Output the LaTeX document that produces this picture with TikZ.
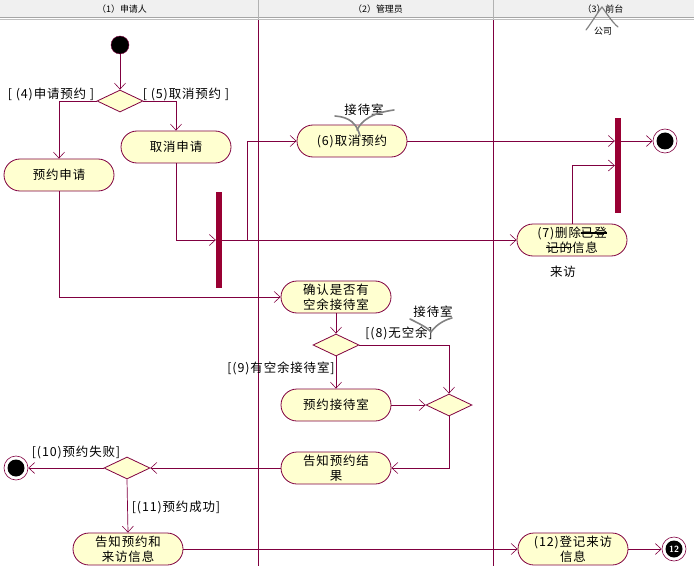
\documentclass[tikz,border=0pt]{standalone}
\usepackage{fontspec}
\newfontfamily\cjk[LetterSpace=7]{Noto Sans CJK SC}
\newfontfamily\cjkplain{Noto Sans CJK SC}
\usetikzlibrary{arrows.meta,shapes.geometric,shapes.misc}
\definecolor{ln}{RGB}{128,0,64}
\definecolor{nfill}{RGB}{255,255,208}
\definecolor{barc}{RGB}{153,0,51}
\definecolor{hdr}{RGB}{240,240,240}
\definecolor{scrib}{RGB}{130,130,130}
\newsavebox\stbox
\newcommand\mystrike[1]{\sbox\stbox{#1}\rlap{\usebox\stbox}\rule[0.3em]{\wd\stbox}{0.14em}}
\begin{document}
\begin{tikzpicture}[x=1bp,y=-1bp,
  act/.style={rounded rectangle,draw=ln,fill=nfill,line width=0.8bp,minimum width=112bp,minimum height=32bp,inner sep=1bp,align=center,font=\cjk\fontsize{12.5}{15}\selectfont},
  dec/.style={diamond,draw=ln,fill=nfill,line width=0.8bp,minimum width=46bp,minimum height=22bp,inner sep=0bp},
  barnode/.style={rectangle,fill=barc,minimum width=6bp,minimum height=96bp,inner sep=0bp},
  startnode/.style={circle,fill=black,draw=ln,minimum size=18bp,inner sep=0bp},
  endnode/.style={circle,draw=ln,fill=white,line width=0.6bp,minimum size=24bp,inner sep=0bp,path picture={\fill[black] (path picture bounding box.center) circle[radius=8.5bp];}},
  lbl/.style={font=\cjk\fontsize{12.5}{14}\selectfont,inner sep=0bp},
  hlbl/.style={font=\cjkplain\fontsize{9}{11}\selectfont,inner sep=0bp},
  flow/.style={draw=ln,line width=0.7bp,-{Straight Barb[length=6bp,width=11bp,line width=0.6bp]}},
  scribble/.style={draw=scrib,line width=1.6bp,line cap=round},
  lane/.style={draw=ln,line width=0.7bp}]
\useasboundingbox (0,0) rectangle (694,566);
% header
\fill[hdr] (0,0) rectangle (694,17);
\draw[gray!70,line width=1bp] (0,17.5) -- (694,17.5);
\draw[gray!50,line width=0.8bp] (0,19.5) -- (694,19.5);
\draw[gray!60,line width=0.8bp] (258,0) -- (258,19);
\draw[gray!60,line width=0.8bp] (493,0) -- (493,19);
\node[hlbl] (h1) at (122,9) {（1）申请人};
\node[hlbl] (h2) at (378,9) {（2）管理员};
\node[hlbl] (h3) at (603,9) {（3）前台};
% lanes
\draw[lane] (258,20) -- (258,566);
\draw[lane] (493,20) -- (493,566);
% nodes
\node[startnode] (start) at (120,45) {};
\node[dec] (d1) at (120,101) {};
\node[act] (a4) at (59,175) {预约申请};
\node[act] (a5) at (176,147) {取消申请};
\node[barnode] (bar1) at (219,240) {};
\coordinate (j1) at (247,240);
\node[act] (a6) at (352,141) {(6)取消预约};
\node[barnode,minimum height=95bp] (bar2) at (618,165.5) {};
\node[endnode] (end1) at (665,141) {};
\node[act] (a7) at (572,240) {(7)删除\mystrike{已登}\\\mystrike{记的}信息};
\node[act] (a8) at (336,297) {确认是否有\\空余接待室};
\node[dec] (d2) at (336,345) {};
\node[dec] (d3) at (449,405) {};
\node[act] (a9) at (336,405) {预约接待室};
\node[act] (a10) at (336,468) {告知预约结\\果};
\node[dec] (d4) at (127,468) {};
\node[endnode] (end2) at (16,468) {};
\node[act] (a11) at (128,549) {告知预约和\\来访信息};
\node[act] (a12) at (573,549) {(12)登记来访\\信息};
\node[endnode] (end3) at (674,549) {};
\node[font=\sffamily\bfseries\fontsize{9}{9}\selectfont,text=white,inner sep=0bp] (n12) at (end3.center) {12};
% labels
\node[lbl] (l4) at (51,94) {[ (4)申请预约 ]};
\node[lbl] (l5) at (186,94) {[ (5)取消预约 ]};
\node[lbl] (l8) at (399,333) {[(8)无空余]};
\node[lbl] (l9) at (281,368) {[(9)有空余接待室]};
\node[lbl] (l10) at (76,452) {[(10)预约失败]};
\node[lbl] (l11) at (176,507) {[(11)预约成功]};
% annotations
\node[lbl] (s1) at (364,110) {接待室};
\node[lbl] (s2) at (433,312) {接待室};
\node[lbl] (s3) at (563,272) {来访};
\node[hlbl] (s4) at (603,31) {公司};
\draw[scribble] (335,116) .. controls (350,117) and (357,124) .. (360,136);
\draw[scribble] (357,130) .. controls (362,120) and (372,113) .. (394,110);
\draw[scribble] (410,319) .. controls (420,324) and (428,328) .. (431,332) .. controls (436,325) and (444,320) .. (452,318);
\draw[scribble,line width=1.2bp] (586,30) .. controls (592,22) and (598,12) .. (602,7) .. controls (607,14) and (612,22) .. (618,27);
% flows
\draw[flow] (start) -- (d1.north);
\draw[flow] (d1.west) -| (a4.north);
\draw[flow] (d1.east) -| (a5.north);
\draw[flow] (a5.south) |- (bar1.west);
\draw[flow] (bar1.east) -- (a7.west);
\draw[flow] (j1) |- (a6.west);
\draw[flow] (a6.east) -- (a6.east -| bar2.west);
\draw[flow] (a7.north) |- (bar2.west);
\draw[flow] (end1 -| bar2.east) -- (end1);
\draw[flow] (a4.south) |- (a8.west);
\draw[flow] (a8.south) -- (d2.north);
\draw[flow] (d2.east) -| (d3.north);
\draw[flow] (d2.south) -- (a9.north);
\draw[flow] (a9.east) -- (d3.west);
\draw[flow] (d3.south) |- (a10.east);
\draw[flow] (a10.west) -- (d4.east);
\draw[flow] (d4.west) -- (end2);
\draw[flow] (d4.south) -- (a11.north);
\draw[flow] (a11.east) -- (a12.west);
\draw[flow] (a12.east) -- (end3);
\end{tikzpicture}
\end{document}
